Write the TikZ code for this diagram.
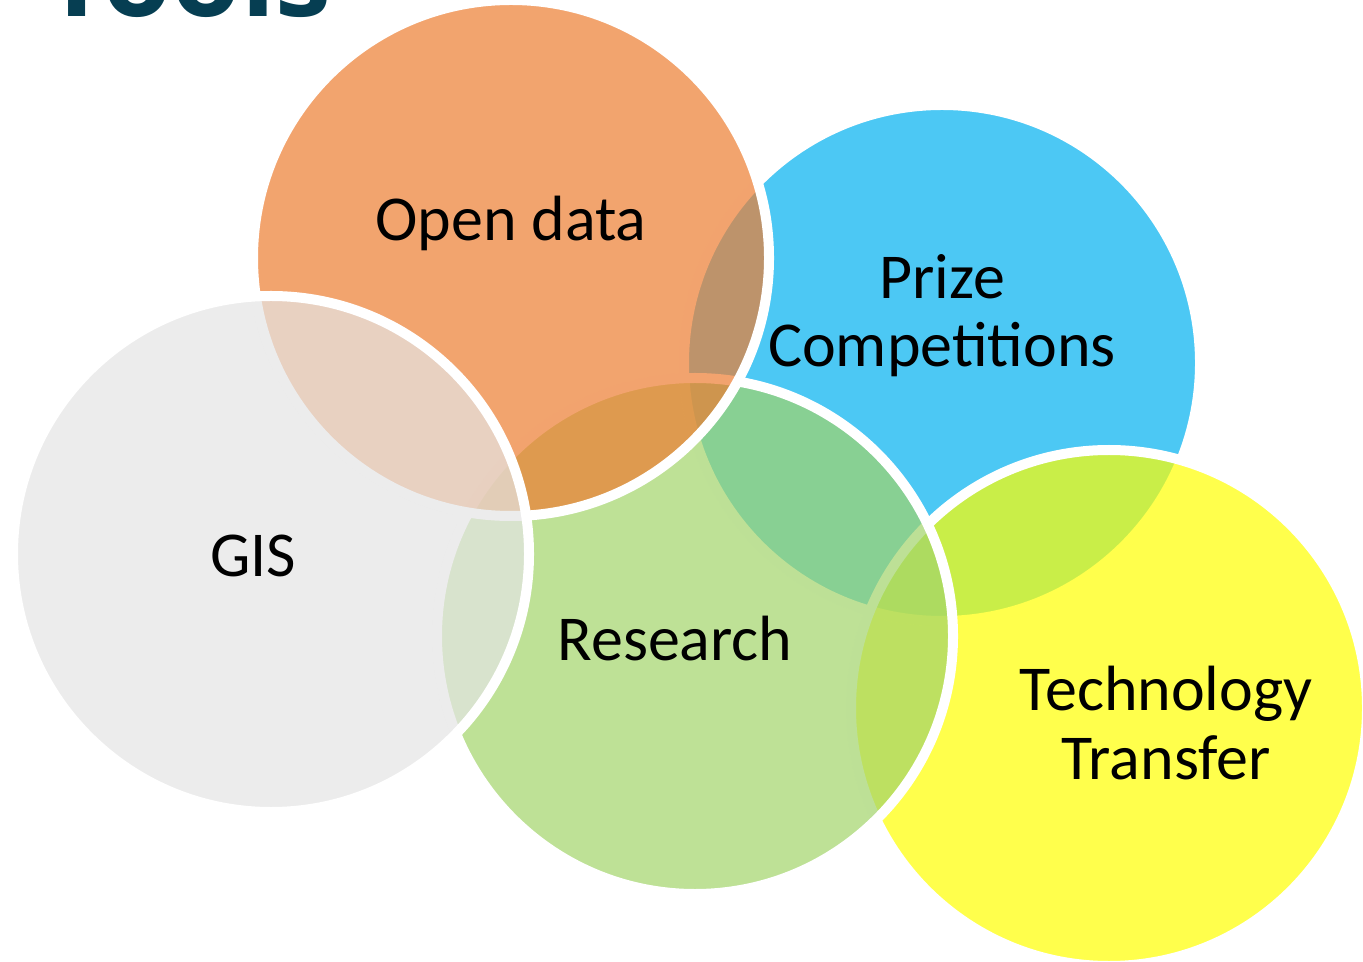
\documentclass[tikz,border=0pt]{standalone}
\usepackage{fontspec}
\setmainfont{Carlito}
\newfontfamily\titlefont{Open Sans}
\usepackage{tikz}
\definecolor{odOrange}{HTML}{ED7D31}
\definecolor{pcBlue}{HTML}{00B0F0}
\definecolor{ttYellow}{HTML}{FFFF00}
\definecolor{reGreen}{HTML}{A2D46A}
\definecolor{gisGray}{HTML}{E4E4E4}
\definecolor{titleTeal}{HTML}{063E52}
\tikzset{
  venn circle/.style={
    circle,
    minimum size=5.16cm,
    inner sep=0pt,
    draw=white,
    line width=1mm,
    fill opacity=0.7
  },
  venn label/.style={
    font=\fontsize{18.2}{19.4}\selectfont,
    align=center,
    inner sep=0pt
  },
  title text/.style={
    font=\titlefont\bfseries\fontsize{32}{36}\selectfont,
    color=titleTeal,
    inner sep=0pt
  }
}

\begin{document}
\begin{tikzpicture}

  %% ---- page frame (1363 x 962 px, 1px = 0.01cm) ----
  \clip (0,0) rectangle (13.63,-9.62);

  %% ---- title, cut off by the top edge ----
  \node[title text, anchor=base west] (title) at (0.44,-0.17) {Tools};

  %% ---- centres of the five circles ----
  \coordinate (cPrize)    at (9.42,-3.63);
  \coordinate (cTech)     at (11.09,-7.08);
  \coordinate (cResearch) at (6.95,-6.36);
  \coordinate (cOpen)     at (5.11,-2.58);
  \coordinate (cGIS)      at (2.71,-5.54);

  % drawn from bottom to top
  \node[venn circle, fill=pcBlue]    (prize)    at (cPrize) {};
  \node[venn circle, fill=ttYellow]  (tech)     at (cTech) {};
  \node[venn circle, fill=reGreen]   (research) at (cResearch) {};
  \node[venn circle, fill=odOrange]  (open)     at (cOpen) {};
  \node[venn circle, fill=gisGray]   (gis)      at (cGIS) {};

  %% ---- labels ----
  \node[venn label, anchor=base] (lblOpen)     at (5.11,-2.41) {Open data};
  \node[venn label]              (lblPrize)    at (9.42,-3.16) {Prize\\Competitions};
  \node[venn label, anchor=base] (lblGIS)      at (2.53,-5.77) {GIS};
  \node[venn label, anchor=base] (lblResearch) at (6.75,-6.60) {Research};
  \node[venn label]              (lblTech)     at (11.66,-7.23) {Technology\\Transfer};

\end{tikzpicture}
\end{document}
